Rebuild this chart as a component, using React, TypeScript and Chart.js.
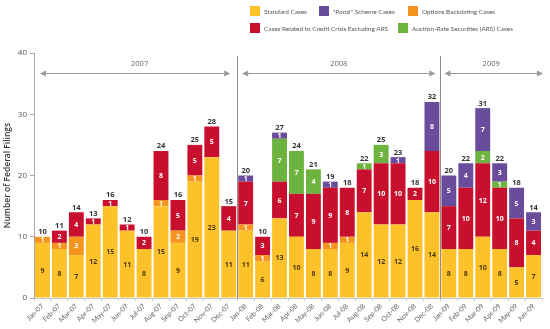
import React, { useEffect, useRef } from 'react';
import { Chart, registerables } from 'chart.js';

Chart.register(...registerables);

const months = [
  'Jan-07', 'Feb-07', 'Mar-07', 'Apr-07', 'May-07', 'Jun-07', 'Jul-07', 'Aug-07', 'Sep-07', 'Oct-07', 'Nov-07', 'Dec-07',
  'Jan-08', 'Feb-08', 'Mar-08', 'Apr-08', 'May-08', 'Jun-08', 'Jul-08', 'Aug-08', 'Sep-08', 'Oct-08', 'Nov-08', 'Dec-08',
  'Jan-09', 'Feb-09', 'Mar-09', 'Apr-09', 'May-09', 'Jun-09',
];

const standardCases = [9, 8, 7, 12, 15, 11, 8, 15, 9, 19, 23, 11, 11, 6, 13, 10, 8, 8, 9, 14, 12, 12, 16, 14, 8, 8, 10, 8, 5, 7];
const optionsBackdating = [1, 1, 3, 0, 0, 0, 0, 1, 2, 1, 0, 0, 1, 1, 0, 0, 0, 1, 1, 0, 0, 0, 0, 0, 0, 0, 0, 0, 0, 0];
const creditCrisis = [0, 2, 4, 1, 1, 1, 2, 8, 5, 5, 5, 4, 7, 3, 6, 7, 9, 9, 8, 7, 10, 10, 2, 10, 7, 10, 12, 10, 8, 4];
const arsCases = [0, 0, 0, 0, 0, 0, 0, 0, 0, 0, 0, 0, 0, 0, 7, 7, 4, 0, 0, 1, 3, 0, 0, 0, 0, 0, 2, 1, 0, 0];
const ponziCases = [0, 0, 0, 0, 0, 0, 0, 0, 0, 0, 0, 0, 1, 0, 1, 0, 0, 1, 0, 0, 0, 1, 0, 8, 5, 4, 7, 3, 5, 3];

const yearLabels = ['2007', '2008', '2009'];
const yearStartIndex = [0, 12, 24];
const yTicks = [0, 10, 20, 30, 40];

const COLORS = {
  standard: '#FDC22A',
  options: '#F7941E',
  credit: '#C8102E',
  ars: '#6DB33F',
  ponzi: '#6A4C9C',
};

const legendItems = [
  { label: 'Standard Cases', color: COLORS.standard, x: 250, y: 6 },
  { label: '"Ponzi" Scheme Cases', color: COLORS.ponzi, x: 319, y: 6 },
  { label: 'Options Backdating Cases', color: COLORS.options, x: 408, y: 6 },
  { label: 'Cases Related to Credit Crisis Excluding ARS', color: COLORS.credit, x: 250, y: 23 },
  { label: 'Auction-Rate Securities (ARS) Cases', color: COLORS.ars, x: 398, y: 23 },
];

const FONT = "'Open Sans', 'Noto Sans', sans-serif";
const NARROW = "Lato, 'Open Sans', sans-serif";

const overlayPlugin = {
  id: 'overlay',
  afterDatasetsDraw(chart: any) {
    const ctx = chart.ctx;
    const xs = chart.scales.x;
    const area = chart.chartArea;
    ctx.save();

    const n = months.length;
    const tops: number[] = new Array(n).fill(Infinity);
    const totals: number[] = new Array(n).fill(0);
    chart.data.datasets.forEach((ds: any, di: number) => {
      const meta = chart.getDatasetMeta(di);
      meta.data.forEach((el: any, i: number) => {
        const v = ds.data[i];
        if (!v) return;
        totals[i] += v;
        tops[i] = Math.min(tops[i], el.y);
        ctx.font = `bold 7px ${FONT}`;
        ctx.textAlign = 'center';
        ctx.textBaseline = 'middle';
        ctx.fillStyle = di === 0 ? '#4a3a10' : '#ffffff';
        ctx.fillText(String(v), el.x, (el.y + el.base) / 2 + 0.5);
      });
    });
    ctx.font = `bold 7.5px ${FONT}`;
    ctx.fillStyle = '#333333';
    ctx.textAlign = 'center';
    ctx.textBaseline = 'bottom';
    for (let i = 0; i < n; i++) {
      const el = chart.getDatasetMeta(0).data[i];
      ctx.fillText(String(totals[i]), el.x, tops[i] - 1);
    }

    const boundary = (idx: number) => (xs.getPixelForValue(idx - 1) + xs.getPixelForValue(idx)) / 2;
    const bounds = [area.left, boundary(yearStartIndex[1]), boundary(yearStartIndex[2]), area.right];
    ctx.strokeStyle = '#8c8c8c';
    ctx.lineWidth = 1;
    [bounds[1], bounds[2]].forEach((bx) => {
      ctx.beginPath();
      ctx.moveTo(Math.round(bx) + 0.5, 56);
      ctx.lineTo(Math.round(bx) + 0.5, area.bottom);
      ctx.stroke();
    });
    const arrowY = 73.5;
    const arrow = (x1: number, x2: number) => {
      ctx.strokeStyle = '#999999';
      ctx.fillStyle = '#999999';
      ctx.beginPath();
      ctx.moveTo(x1 + 4, arrowY);
      ctx.lineTo(x2 - 4, arrowY);
      ctx.stroke();
      ctx.beginPath();
      ctx.moveTo(x1, arrowY);
      ctx.lineTo(x1 + 6, arrowY - 3);
      ctx.lineTo(x1 + 6, arrowY + 3);
      ctx.closePath();
      ctx.fill();
      ctx.beginPath();
      ctx.moveTo(x2, arrowY);
      ctx.lineTo(x2 - 6, arrowY - 3);
      ctx.lineTo(x2 - 6, arrowY + 3);
      ctx.closePath();
      ctx.fill();
    };
    arrow(bounds[0] + 6, bounds[1] - 7);
    arrow(bounds[1] + 5, bounds[2] - 5);
    arrow(bounds[2] + 4, bounds[3] + 1);
    ctx.font = `7.5px ${FONT}`;
    ctx.fillStyle = '#666666';
    ctx.textAlign = 'center';
    ctx.textBaseline = 'middle';
    yearLabels.forEach((yl, k) => {
      const cx = (bounds[k] + bounds[k + 1]) / 2 + (k === 0 ? 4 : 0);
      ctx.fillText(yl, cx, 64);
    });

    ctx.font = `6.4px ${NARROW}`;
    ctx.textAlign = 'left';
    ctx.textBaseline = 'middle';
    legendItems.forEach((it) => {
      ctx.fillStyle = it.color;
      ctx.fillRect(it.x, it.y, 10, 10);
      ctx.fillStyle = '#555555';
      ctx.fillText(it.label, it.x + 14, it.y + 5.5);
    });
    ctx.restore();
  },
};

export default function App() {
  const ref = useRef<HTMLCanvasElement | null>(null);
  useEffect(() => {
    if (!ref.current) return;
    const chart = new Chart(ref.current, {
      type: 'bar',
      data: {
        labels: months,
        datasets: [
          { label: 'Standard Cases', data: standardCases, backgroundColor: COLORS.standard },
          { label: 'Options Backdating Cases', data: optionsBackdating, backgroundColor: COLORS.options },
          { label: 'Cases Related to Credit Crisis Excluding ARS', data: creditCrisis, backgroundColor: COLORS.credit },
          { label: 'Auction-Rate Securities (ARS) Cases', data: arsCases, backgroundColor: COLORS.ars },
          { label: '"Ponzi" Scheme Cases', data: ponziCases, backgroundColor: COLORS.ponzi },
        ],
      },
      options: {
        animation: false,
        responsive: true,
        maintainAspectRatio: false,
        layout: { padding: { top: 53, right: 8, left: 0, bottom: 0 } },
        datasets: { bar: { categoryPercentage: 1, barPercentage: 0.88 } },
        plugins: { legend: { display: false }, tooltip: { enabled: false } },
        scales: {
          x: {
            stacked: true,
            grid: { display: true, drawOnChartArea: false, drawTicks: true, tickLength: 3, color: '#c5ccd6', offset: true },
            border: { color: '#c5ccd6' },
            ticks: {
              autoSkip: false,
              maxRotation: 45,
              minRotation: 45,
              padding: 1,
              color: '#666666',
              font: { size: 7, family: NARROW },
            },
            afterFit: (s: any) => { s.height = 31; },
          },
          y: {
            stacked: true,
            min: 0,
            max: 40,
            afterBuildTicks: (s: any) => { s.ticks = yTicks.map((v) => ({ value: v })); },
            grid: { display: true, drawOnChartArea: false, drawTicks: true, tickLength: 4, color: '#aaaaaa' },
            border: { color: '#aaaaaa' },
            ticks: { color: '#555555', padding: 3, font: { size: 8, family: FONT } },
            title: {
              display: true,
              text: 'Number of Federal Filings',
              color: '#333333',
              padding: { top: 2, bottom: 0 },
              font: { size: 8.5, weight: '600', family: FONT },
            },
            afterFit: (s: any) => { s.width = 34; },
          },
        },
      },
      plugins: [overlayPlugin],
    } as any);
    return () => chart.destroy();
  }, []);
  return (
    <div style={{ position: 'fixed', left: 0, top: 0, width: 550, height: 329, background: '#fff' }}>
      <canvas ref={ref} />
    </div>
  );
}
